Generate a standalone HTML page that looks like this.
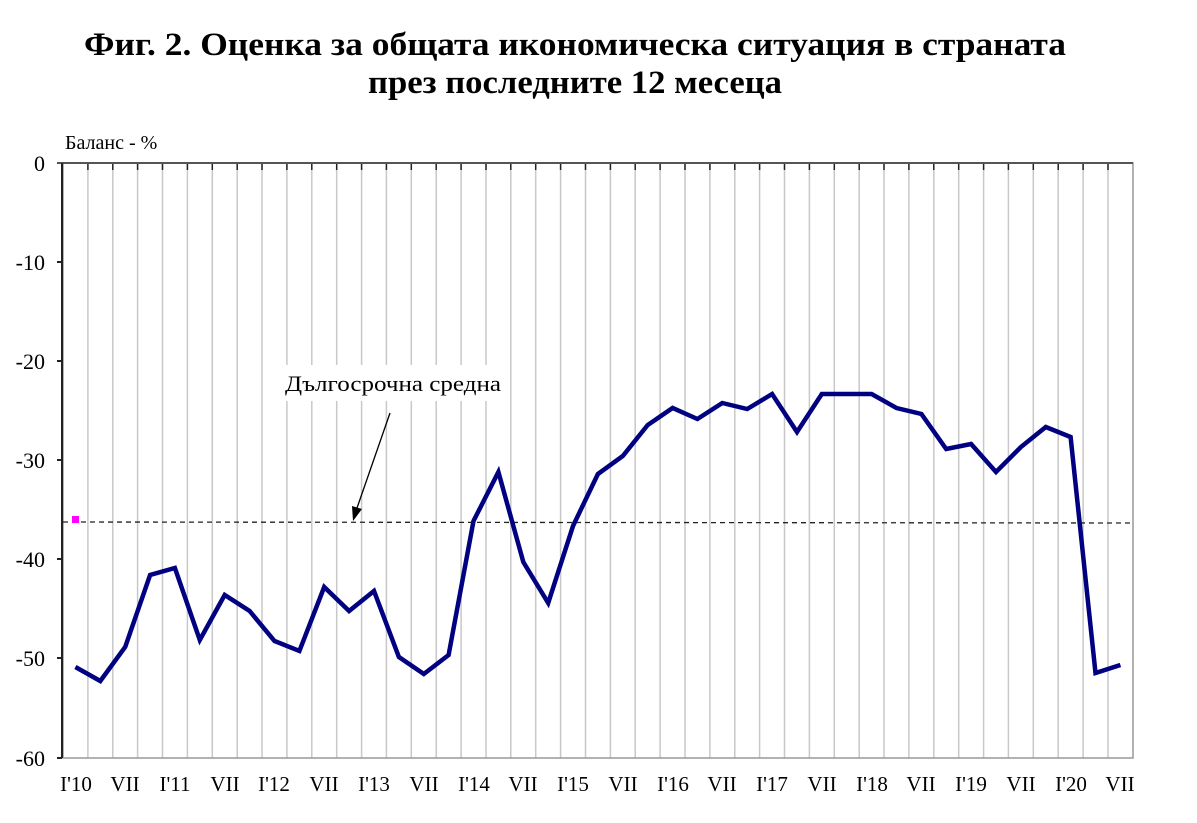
<!DOCTYPE html>
<html><head><meta charset="utf-8"><style>body{margin:0;background:#fff}svg{display:block}</style></head>
<body>
<svg width="1197" height="823" xmlns="http://www.w3.org/2000/svg" font-family="Liberation Serif, serif">
<text x="575" y="55" font-size="33" font-weight="bold" text-anchor="middle" textLength="982" lengthAdjust="spacingAndGlyphs">Фиг. 2. Оценка за общата икономическа ситуация в страната</text>
<text x="575" y="93" font-size="33" font-weight="bold" text-anchor="middle" textLength="414" lengthAdjust="spacingAndGlyphs">през последните 12 месеца</text>
<text x="65" y="149" font-size="20">Баланс - %</text>
<path stroke="#c8c8c8" stroke-width="1.5" fill="none" d="M87.9 163V758M112.8 163V758M137.6 163V758M162.5 163V758M187.4 163V758M212.3 163V758M237.2 163V758M262 163V758M286.9 163V758M311.8 163V758M336.7 163V758M361.6 163V758M386.4 163V758M411.3 163V758M436.2 163V758M461.1 163V758M486 163V758M510.8 163V758M535.7 163V758M560.6 163V758M585.5 163V758M610.4 163V758M635.2 163V758M660.1 163V758M685 163V758M709.9 163V758M734.8 163V758M759.6 163V758M784.5 163V758M809.4 163V758M834.3 163V758M859.2 163V758M884 163V758M908.9 163V758M933.8 163V758M958.7 163V758M983.6 163V758M1008.4 163V758M1033.3 163V758M1058.2 163V758M1083.1 163V758M1108 163V758"/>
<path stroke="#222" stroke-width="1.5" fill="none" d="M87.9 163V170M112.8 163V170M137.6 163V170M162.5 163V170M187.4 163V170M212.3 163V170M237.2 163V170M262 163V170M286.9 163V170M311.8 163V170M336.7 163V170M361.6 163V170M386.4 163V170M411.3 163V170M436.2 163V170M461.1 163V170M486 163V170M510.8 163V170M535.7 163V170M560.6 163V170M585.5 163V170M610.4 163V170M635.2 163V170M660.1 163V170M685 163V170M709.9 163V170M734.8 163V170M759.6 163V170M784.5 163V170M809.4 163V170M834.3 163V170M859.2 163V170M884 163V170M908.9 163V170M933.8 163V170M958.7 163V170M983.6 163V170M1008.4 163V170M1033.3 163V170M1058.2 163V170M1083.1 163V170M1108 163V170"/>
<rect x="63" y="163" width="1070" height="595" fill="none" stroke="#999" stroke-width="1.5"/>
<line x1="57" y1="163" x2="1133" y2="163" stroke="#555" stroke-width="2"/>
<line x1="62" y1="163" x2="62" y2="758" stroke="#222" stroke-width="2"/>
<g stroke="#222" stroke-width="2">
<line x1="57" y1="262" x2="62" y2="262"/><line x1="57" y1="361" x2="62" y2="361"/><line x1="57" y1="460" x2="62" y2="460"/><line x1="57" y1="559" x2="62" y2="559"/><line x1="57" y1="658" x2="62" y2="658"/><line x1="57" y1="758" x2="62" y2="758"/>
</g>
<g font-size="22" text-anchor="end">
<text x="45" y="171">0</text><text x="45" y="270">-10</text><text x="45" y="369">-20</text><text x="45" y="468">-30</text><text x="45" y="567">-40</text><text x="45" y="666">-50</text><text x="45" y="766">-60</text>
</g>
<g font-size="21" text-anchor="middle">
<text x="76" y="791">I'10</text><text x="125" y="791">VII</text><text x="175" y="791">I'11</text><text x="225" y="791">VII</text><text x="274" y="791">I'12</text><text x="324" y="791">VII</text><text x="374" y="791">I'13</text><text x="424" y="791">VII</text><text x="474" y="791">I'14</text><text x="523" y="791">VII</text><text x="573" y="791">I'15</text><text x="623" y="791">VII</text><text x="673" y="791">I'16</text><text x="722" y="791">VII</text><text x="772" y="791">I'17</text><text x="822" y="791">VII</text><text x="872" y="791">I'18</text><text x="921" y="791">VII</text><text x="971" y="791">I'19</text><text x="1021" y="791">VII</text><text x="1071" y="791">I'20</text><text x="1120" y="791">VII</text>
</g>
<line x1="63" y1="522" x2="1133" y2="523" stroke="#222" stroke-width="1.3" stroke-dasharray="5,4"/>
<rect x="72" y="516" width="7" height="7" fill="#ff00ff"/>
<rect x="280" y="365" width="230" height="36" fill="#fff"/>
<text x="285" y="391" font-size="22" textLength="216" lengthAdjust="spacingAndGlyphs">Дългосрочна средна</text>
<line x1="390" y1="413" x2="357" y2="508" stroke="#000" stroke-width="1.3"/>
<polygon points="353,521 352,506 362,509" fill="#000"/>
<polyline fill="none" stroke="#000080" stroke-width="4.5" stroke-linejoin="miter" points="75.4,667 100.3,681 125.2,647 150.1,575 174.9,568 199.8,640 224.7,595 249.6,611 274.5,641 299.4,651 324.2,587 349.1,611 374,591 398.9,657 423.8,674 448.6,655 473.5,521 498.4,472 523.3,562 548.2,603 573,526 597.9,474 622.8,456 647.7,425 672.6,408 697.4,419 722.3,403 747.2,409 772.1,394 797,432 821.8,394 846.7,394 871.6,394 896.5,408 921.4,414 946.2,449 971.1,444 996,472 1020.9,447 1045.8,427 1070.6,437 1095.5,673 1120.4,665"/>
</svg>
</body></html>
